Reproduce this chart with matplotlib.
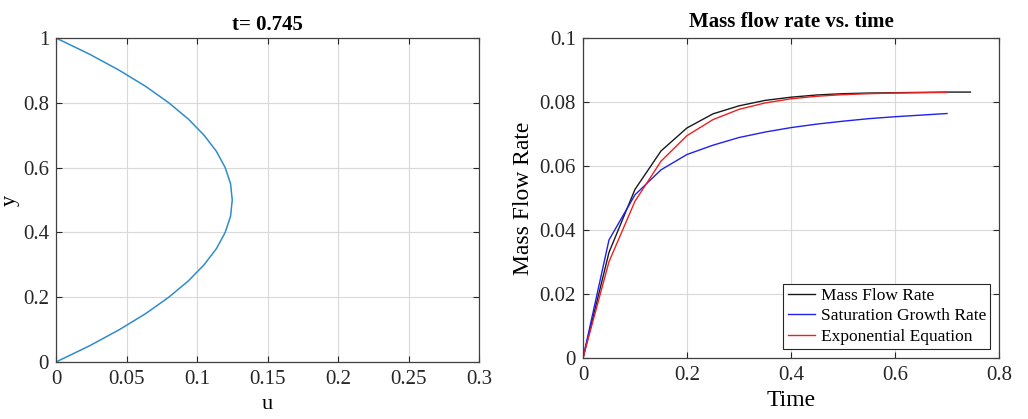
import numpy as np
import matplotlib.pyplot as plt

plt.rcParams['font.family'] = ['Liberation Serif', 'DejaVu Serif']

# velocity profile at t = 0.745
y_prof = [0, 0.05, 0.1, 0.15, 0.2, 0.25, 0.3, 0.35, 0.4, 0.45, 0.5,
          0.55, 0.6, 0.65, 0.7, 0.75, 0.8, 0.85, 0.9, 0.95, 1.0]
u_prof = [0, 0.0238, 0.045, 0.0638, 0.08, 0.0938, 0.105, 0.1138, 0.12, 0.1238, 0.125,
          0.1238, 0.12, 0.1138, 0.105, 0.0938, 0.08, 0.0638, 0.045, 0.0238, 0]

# mass flow rate vs time
t_mfr = [0, 0.05, 0.1, 0.15, 0.2, 0.25, 0.3, 0.35, 0.4, 0.45, 0.5, 0.55, 0.6, 0.65, 0.7, 0.745]
mfr = [0, 0.033, 0.0527, 0.0647, 0.0719, 0.0763, 0.0788, 0.0805, 0.0815, 0.0822,
       0.0826, 0.0828, 0.0829, 0.083, 0.0831, 0.0831]
t_fit = [0, 0.05, 0.1, 0.15, 0.2, 0.25, 0.3, 0.35, 0.4, 0.45, 0.5, 0.55, 0.6, 0.65, 0.7]
sat_growth = [0, 0.0369, 0.051, 0.0588, 0.0636, 0.0665, 0.0689, 0.0706, 0.072, 0.0731,
              0.074, 0.0748, 0.0754, 0.0759, 0.0764]
expo = [0, 0.0301, 0.049, 0.0615, 0.0695, 0.0745, 0.0777, 0.0797, 0.081, 0.0818,
        0.0823, 0.0826, 0.0828, 0.0829, 0.083]

fig = plt.figure(figsize=(10.28, 4.19), dpi=100)
ax1 = fig.add_axes([56/1028, 1-362/419, 423/1028, 324/419])
ax2 = fig.add_axes([583/1028, 1-358/419, 416/1028, 320/419])

def matlab_style(ax):
    ax.grid(True, color='#d9d9d9', linewidth=0.8)
    ax.set_axisbelow(True)
    for s in ax.spines.values():
        s.set_color('#404040')
        s.set_linewidth(0.9)
    ax.tick_params(direction='in', top=True, right=True, length=4,
                   labelsize=15, colors='#262626', width=0.8)
    ax.tick_params(axis='x', pad=6)
    ax.tick_params(axis='y', pad=5)

ax1.plot(u_prof, y_prof, color='#2F8DCB', linewidth=1.1)
ax1.set_xlim(0, 0.3)
ax1.set_ylim(0, 1)
ax1.set_xticks([0, 0.05, 0.1, 0.15, 0.2, 0.25, 0.3])
ax1.set_xticklabels(['0', '0.05', '0.1', '0.15', '0.2', '0.25', '0.3'])
ax1.set_yticks([0, 0.2, 0.4, 0.6, 0.8, 1])
ax1.set_yticklabels(['0', '0.2', '0.4', '0.6', '0.8', '1'])
ax1.set_xlabel('u', fontsize=16, labelpad=4)
ax1.set_ylabel('y', fontsize=16, labelpad=2)
ax1.set_title('t= 0.745', fontsize=15, fontweight='bold', pad=6)
matlab_style(ax1)

ax2.plot(t_mfr, mfr, color='#1a1a1a', linewidth=1.0, label='Mass Flow Rate')
ax2.plot(t_fit, sat_growth, color='#2020f0', linewidth=1.0, label='Saturation Growth Rate')
ax2.plot(t_fit, expo, color='#f02020', linewidth=1.0, label='Exponential Equation')
ax2.set_xlim(0, 0.8)
ax2.set_ylim(0, 0.1)
ax2.set_xticks([0, 0.2, 0.4, 0.6, 0.8])
ax2.set_xticklabels(['0', '0.2', '0.4', '0.6', '0.8'])
ax2.set_yticks([0, 0.02, 0.04, 0.06, 0.08, 0.1])
ax2.set_yticklabels(['0', '0.02', '0.04', '0.06', '0.08', '0.1'])
ax2.set_xlabel('Time', fontsize=17, labelpad=3)
ax2.set_ylabel('Mass Flow Rate', fontsize=17, labelpad=4)
ax2.set_title('Mass flow rate vs. time', fontsize=15, fontweight='bold', pad=8)
matlab_style(ax2)
leg = ax2.legend(loc='lower right', fontsize=12.5, fancybox=False, framealpha=1,
                 edgecolor='#262626', handlelength=1.6, handletextpad=0.3,
                 borderpad=0.25, labelspacing=0.25, borderaxespad=0.5)
leg.get_frame().set_linewidth(0.8)

fig.savefig('out.png', dpi=100)
